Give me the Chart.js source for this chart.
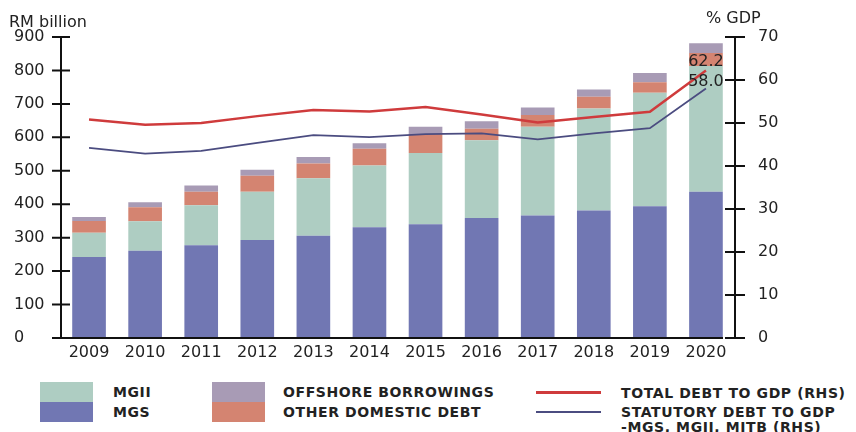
<!DOCTYPE html>
<html>
<head>
<meta charset="utf-8">
<script src="https://cdn.jsdelivr.net/npm/chart.js@4.4.0/dist/chart.umd.min.js"></script>
<style>
  body { margin:0; background:#fff; }
  #wrap { position:relative; width:856px; height:432px; overflow:hidden; font-family:"DejaVu Sans", sans-serif; }
  #myChart { position:absolute; left:0; top:0; }
  .lcol { position:absolute; top:382px; }
  .lrow { display:flex; align-items:center; height:20px; }
  .sw { width:53px; height:20px; }
  .ln { width:65px; }
  .lt { font-weight:bold; font-size:14px; letter-spacing:0.6px; color:#222; white-space:nowrap; line-height:15px; }
</style>
</head>
<body>
<div id="wrap">
  <canvas id="myChart" width="856" height="372"></canvas>
  <div id="legend"></div>
</div>
<script>
var years = ['2009','2010','2011','2012','2013','2014','2015','2016','2017','2018','2019','2020']
// RM billion, stacked
var mgs      = [242, 261, 277, 293, 306, 331, 340, 359, 366, 381, 394, 437]
var mgii     = [73, 88, 120, 144, 172, 185, 213, 232, 266, 305, 339, 376]
var otherDom = [35, 42, 40, 48, 44, 50, 57, 35, 35, 35, 32, 39]
var offshore = [12, 15, 19, 18, 19, 16, 22, 22, 22, 22, 27, 29]
// % GDP, right axis
var totalDebt     = [50.8, 49.6, 50.0, 51.6, 53.0, 52.7, 53.7, 52.0, 50.1, 51.4, 52.6, 62.2]
var statutoryDebt = [44.2, 42.9, 43.5, 45.4, 47.2, 46.7, 47.4, 47.6, 46.2, 47.6, 48.8, 58.0]

var textColor = '#222'

var axesPlugin = {
  id: 'axesPlugin',
  afterDraw(chart) {
    var ctx = chart.ctx, a = chart.chartArea, y = chart.scales.y, y1 = chart.scales.y1
    ctx.save()
    ctx.strokeStyle = '#111'
    ctx.lineWidth = 2
    ctx.beginPath()
    ctx.moveTo(a.left, a.top); ctx.lineTo(a.left, a.bottom)
    ctx.moveTo(a.left - 1, a.bottom); ctx.lineTo(a.right - 11, a.bottom)
    var rx = a.right + 1
    ctx.moveTo(rx, a.top); ctx.lineTo(rx, a.bottom)
    y.ticks.forEach(function(t) {
      var py = y.getPixelForValue(t.value)
      ctx.moveTo(a.left - 9, py); ctx.lineTo(a.left + 9, py)
    })
    y1.ticks.forEach(function(t) {
      var py = y1.getPixelForValue(t.value)
      ctx.moveTo(rx - 10, py); ctx.lineTo(rx + 10, py)
    })
    ctx.stroke()

    // axis titles
    ctx.fillStyle = textColor
    ctx.font = '16px "DejaVu Sans"'
    ctx.textBaseline = 'middle'
    ctx.textAlign = 'left'
    ctx.fillText('RM billion', 9, 23)
    ctx.fillText('% GDP', 706, 19)

    // end labels on the two lines
    ctx.textAlign = 'center'
    ;[4, 5].forEach(function(di) {
      var meta = chart.getDatasetMeta(di)
      var last = meta.data[meta.data.length - 1]
      var val = chart.data.datasets[di].data[meta.data.length - 1]
      ctx.fillText(val.toFixed(1), last.x, last.y - (di == 4 ? 9 : 7))
    })
    ctx.restore()
  }
}

var tickFont = { family: 'DejaVu Sans', size: 16 }

var clusterChart = new Chart(document.getElementById('myChart'), {
  type: 'bar',
  data: {
    labels: years,
    datasets: [
      { label: 'MGS', data: mgs, backgroundColor: '#7177b3', yAxisID: 'y', order: 1 },
      { label: 'MGII', data: mgii, backgroundColor: '#aecdc2', yAxisID: 'y', order: 1 },
      { label: 'OTHER DOMESTIC DEBT', data: otherDom, backgroundColor: '#d48471', yAxisID: 'y', order: 1 },
      { label: 'OFFSHORE BORROWINGS', data: offshore, backgroundColor: '#a89bb5', yAxisID: 'y', order: 1 },
      { type: 'line', label: 'TOTAL DEBT TO GDP (RHS)', data: totalDebt, borderColor: '#cf3b3c', borderWidth: 2.5,
        pointRadius: 0, tension: 0, yAxisID: 'y1', order: 0 },
      { type: 'line', label: 'STATUTORY DEBT TO GDP\n-MGS, MGII, MITB (RHS)', data: statutoryDebt, borderColor: '#4b4c80', borderWidth: 1.8,
        pointRadius: 0, tension: 0, yAxisID: 'y1', order: 0 }
    ]
  },
  options: {
    responsive: false,
    animation: false,
    layout: { padding: { left: 14, top: 37, right: 0, bottom: 0 } },
    datasets: { bar: { barPercentage: 0.6, categoryPercentage: 1 } },
    plugins: { legend: { display: false }, tooltip: { enabled: false } },
    scales: {
      x: {
        stacked: true,
        grid: { display: false, drawTicks: false },
        border: { display: false },
        ticks: { font: tickFont, color: textColor, padding: 5, maxRotation: 0 },
        afterFit: function(s) { s.height = 34 }
      },
      y: {
        stacked: true, position: 'left', min: 0, max: 900,
        grid: { display: false, drawTicks: false },
        border: { display: false },
        ticks: { stepSize: 100, font: tickFont, color: textColor, crossAlign: 'far' },
        afterFit: function(s) { s.width = 47 }
      },
      y1: {
        position: 'right', min: 0, max: 70,
        grid: { display: false, drawTicks: false },
        border: { display: false },
        ticks: { stepSize: 10, font: tickFont, color: textColor, padding: 24 },
        afterFit: function(s) { s.width = 122 }
      }
    }
  },
  plugins: [axesPlugin]
})

// legend, built from the chart datasets
function buildLegend(chart) {
  var ds = chart.data.datasets
  var cols = [[1, 0], [3, 2], [4, 5]]
  var lefts = [40, 212, 536]
  var gaps = [20, 18, 20]
  var html = ''
  cols.forEach(function(col, ci) {
    html += '<div class="lcol" style="left:' + lefts[ci] + 'px">'
    col.forEach(function(di) {
      var d = ds[di]
      var isLine = d.type === 'line'
      var lines = d.label.split('\n')
      var mark = isLine
        ? '<div class="ln" style="height:0;border-top:' + (di == 4 ? 3 : 2) + 'px solid ' + d.borderColor + ';' + (lines.length > 1 ? 'margin-top:9px;' : '') + '"></div>'
        : '<div class="sw" style="background:' + d.backgroundColor + '"></div>'
      html += '<div class="lrow" style="' + (lines.length > 1 ? 'align-items:flex-start;' : '') + '">' + mark +
        '<div class="lt" style="margin-left:' + gaps[ci] + 'px;' + (isLine ? 'padding-top:3px;' : '') + '">' +
        lines.join('<br>') + '</div></div>'
    })
    html += '</div>'
  })
  document.getElementById('legend').innerHTML = html
}
buildLegend(clusterChart)
</script>
</body>
</html>
